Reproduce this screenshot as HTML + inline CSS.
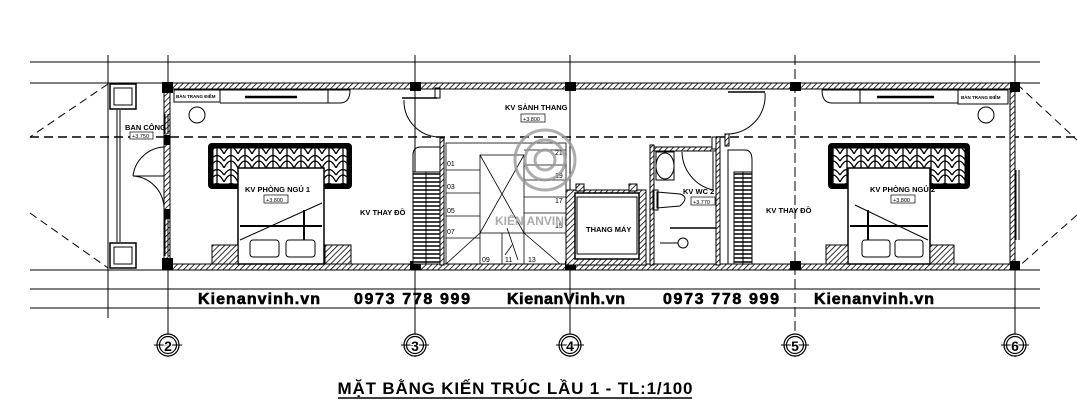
<!DOCTYPE html>
<html><head><meta charset="utf-8"><style>
html,body{margin:0;padding:0;background:#fff}
svg{display:block}
text{font-family:"Liberation Sans",sans-serif}
</style></head><body>
<svg width="1077" height="420" viewBox="0 0 1077 420" xmlns="http://www.w3.org/2000/svg">
<defs>
<pattern id="h" width="4" height="4" patternUnits="userSpaceOnUse" patternTransform="rotate(45)">
<rect width="4" height="4" fill="#fff"/><line x1="0" y1="0" x2="0" y2="4" stroke="#000" stroke-width="1.6"/></pattern>
<pattern id="st" width="4" height="4" patternUnits="userSpaceOnUse"><rect width="4" height="4" fill="#fff"/><line x1="0" y1="2" x2="4" y2="2" stroke="#000" stroke-width="1.5"/></pattern>
<pattern id="orn" width="14" height="14" patternUnits="userSpaceOnUse"><rect width="14" height="14" fill="#fff"/><path d="M0 14 Q7 0 14 14 M0 7 Q7 -4 14 7 M7 0 L7 14" stroke="#000" fill="none" stroke-width="1.3"/></pattern>
</defs>
<g stroke="#000" fill="none" stroke-width="1">
<line x1="30" y1="62" x2="1040" y2="62"/>
<line x1="30" y1="83" x2="1040" y2="83"/>
<line x1="30" y1="270" x2="1040" y2="270"/>
<line x1="30" y1="289" x2="1040" y2="289"/>
<line x1="30" y1="308" x2="1040" y2="308"/>
<line x1="108" y1="55" x2="108" y2="318"/>
<line x1="168" y1="55" x2="168" y2="357"/>
<line x1="415" y1="55" x2="415" y2="357"/>
<line x1="570" y1="55" x2="570" y2="357"/>
<line x1="795" y1="55" x2="795" y2="357" stroke-dasharray="10,4"/>
<line x1="1015" y1="55" x2="1015" y2="357"/>
<line x1="30" y1="137" x2="1077" y2="137" stroke-width="1.5" stroke-dasharray="9,5"/>
<line x1="108" y1="84" x2="30" y2="137" stroke-dasharray="8,5"/>
<line x1="30" y1="213" x2="108" y2="268" stroke-dasharray="8,5"/>
<line x1="1017" y1="84" x2="1077" y2="140" stroke-dasharray="8,5"/>
<line x1="1077" y1="215" x2="1017" y2="268" stroke-dasharray="8,5"/>
</g>
<rect x="168" y="83" width="847" height="6" fill="url(#h)" stroke="#000"/>
<rect x="168" y="264" width="847" height="6" fill="url(#h)" stroke="#000"/>
<rect x="164" y="89" width="6" height="175" fill="url(#h)" stroke="#000"/>
<rect x="1010" y="89" width="5" height="175" fill="url(#h)" stroke="#000"/>
<g fill="#000">
<rect x="162" y="82" width="11" height="11"/><rect x="162" y="258" width="11" height="12"/>
<rect x="410" y="82" width="11" height="9"/><rect x="410" y="261" width="11" height="9"/>
<rect x="565" y="82" width="11" height="9"/><rect x="565" y="261" width="11" height="9"/>
<rect x="790" y="82" width="11" height="9"/><rect x="790" y="261" width="11" height="9"/>
<rect x="1010" y="82" width="10" height="10"/><rect x="1010" y="261" width="10" height="9"/>
<rect x="164" y="135" width="6" height="10"/><rect x="164" y="209" width="6" height="10"/>
</g>
<g stroke="#000" fill="none">
<rect x="110" y="84" width="26" height="25" stroke-width="1.5"/><rect x="114" y="88" width="18" height="17"/>
<rect x="110" y="243" width="26" height="25" stroke-width="1.5"/><rect x="114" y="247" width="18" height="17"/>
<line x1="117" y1="110" x2="117" y2="242"/><line x1="120" y1="110" x2="120" y2="242"/>
<path d="M164 147 A33 33 0 0 0 133 176 M133 176 L164 176"/>
<path d="M164 207 A33 33 0 0 0 133 176"/>
<line x1="165" y1="114" x2="165" y2="134"/><line x1="168" y1="114" x2="168" y2="134"/>
<line x1="165" y1="219" x2="165" y2="256"/><line x1="168" y1="219" x2="168" y2="256"/>
</g>
<text x="125" y="130" font-size="7.5" font-weight="bold">BAN CÔNG</text>
<rect x="130" y="132" width="23" height="7" fill="#fff" stroke="#000" stroke-width=".7"/>
<text x="132" y="138" font-size="5.5">+3.750</text>
<g stroke="#000" fill="none">
<rect x="174" y="90" width="46" height="12"/><path d="M220 90 L328 90 L328 103 L220 103"/>
<line x1="245" y1="97" x2="297" y2="97" stroke-width="2.5"/>
<path d="M328 90 L350 90 Q350 103 340 103 L328 103"/>
<circle cx="197" cy="115" r="8"/>
</g>
<text x="176" y="98" font-size="4.5" font-weight="bold">BÀN TRANG ĐIỂM</text>
<rect x="208" y="143" width="144" height="46" rx="4" fill="#000"/>
<rect x="213" y="148" width="134" height="36" fill="url(#orn)" stroke="#000"/>
<rect x="238" y="168" width="86" height="96" fill="#fff" stroke="#000" stroke-width="1.5"/>
<line x1="240" y1="240" x2="322" y2="203" stroke="#000"/>
<line x1="240" y1="226" x2="322" y2="226" stroke="#000" stroke-width="2"/>
<line x1="304" y1="210" x2="304" y2="250" stroke="#000" stroke-width="2"/>
<rect x="250" y="240" width="29" height="17" rx="3" fill="#fff" stroke="#000"/>
<rect x="286" y="240" width="29" height="17" rx="3" fill="#fff" stroke="#000"/>
<rect x="212" y="245" width="26" height="19" fill="url(#h)" stroke="#000"/>
<rect x="325" y="245" width="26" height="19" fill="url(#h)" stroke="#000"/>
<text x="245" y="192" font-size="7.5" font-weight="bold">KV PHÒNG NGỦ 1</text>
<rect x="264" y="195" width="24" height="8" fill="#fff" stroke="#000" stroke-width=".7"/>
<text x="266" y="202" font-size="5.5">+3.800</text>
<text x="360" y="215" font-size="7.5" font-weight="bold">KV THAY ĐỒ</text>
<path d="M413 264 L413 155 Q413 147 421 147 L440 147" stroke="#000" fill="none"/>
<rect x="413" y="172" width="27" height="92" fill="url(#st)" stroke="#000"/>
<line x1="426" y1="172" x2="426" y2="264" stroke="#000"/>
<rect x="440" y="138" width="4" height="127" fill="url(#h)" stroke="#000"/>
<g stroke="#000" fill="none">
<line x1="402" y1="98" x2="437" y2="98" stroke-width="1.5"/>
<rect x="435" y="88" width="5" height="10"/>
<path d="M404 100 A36 36 0 0 0 438 137"/>
</g>
<g stroke="#000" fill="none" stroke-width=".8">
<rect x="446" y="143" width="120" height="121"/>
<line x1="446" y1="170" x2="480" y2="170"/><line x1="446" y1="193" x2="480" y2="193"/>
<line x1="446" y1="216" x2="480" y2="216"/><line x1="446" y1="238" x2="480" y2="238"/>
<rect x="480" y="155" width="44" height="78"/>
<line x1="480" y1="155" x2="524" y2="233"/><line x1="524" y1="155" x2="480" y2="233"/>
<line x1="480" y1="233" x2="480" y2="264"/><line x1="502" y1="233" x2="502" y2="264"/><line x1="524" y1="233" x2="524" y2="264"/>
<line x1="446" y1="264" x2="480" y2="233"/><line x1="524" y1="233" x2="560" y2="264"/>
<line x1="524" y1="150" x2="566" y2="150"/><line x1="524" y1="165" x2="566" y2="165"/><line x1="524" y1="180" x2="566" y2="180"/><line x1="524" y1="197" x2="566" y2="197"/><line x1="524" y1="213" x2="566" y2="213"/><line x1="524" y1="233" x2="566" y2="233"/>
<path d="M507 228 L518 260 M505 255 L512 245"/>
</g>
<g font-size="7" fill="#000">
<text x="447" y="166">01</text><text x="447" y="189">03</text><text x="447" y="213">05</text><text x="447" y="234">07</text>
<text x="482" y="262">09</text><text x="505" y="262">11</text><text x="528" y="262">13</text>
<text x="555" y="155">21</text><text x="555" y="178">19</text><text x="555" y="203">17</text><text x="555" y="228">15</text>
</g>
<g stroke="#999" fill="none" stroke-width="3" opacity=".8">
<circle cx="545" cy="160" r="30"/><circle cx="545" cy="160" r="20"/><circle cx="545" cy="160" r="10"/>
</g>
<text x="495" y="225" font-size="12" fill="#aaa" font-weight="bold">KIẾN ANVINH</text>
<text x="505" y="110" font-size="7.5" font-weight="bold">KV SẢNH THANG</text>
<rect x="521" y="114" width="24" height="8" fill="#fff" stroke="#000" stroke-width=".7"/>
<text x="523" y="121" font-size="5.5">+3.800</text>
<rect x="566" y="190" width="80" height="75" fill="url(#h)" stroke="#000"/>
<rect x="575" y="193" width="64" height="66" fill="#fff" stroke="#000" stroke-width="1.5"/>
<rect x="577" y="197" width="60" height="57" fill="#fff" stroke="#000"/>
<rect x="576" y="184" width="8" height="7" fill="url(#h)" stroke="#000"/>
<rect x="629" y="184" width="8" height="7" fill="url(#h)" stroke="#000"/>
<text x="586" y="232" font-size="7.5" font-weight="bold">THANG MÁY</text>
<g stroke="#000" fill="none">
<rect x="650" y="145" width="4" height="120" fill="url(#h)"/>
<rect x="654" y="147" width="62" height="4" fill="url(#h)"/>
<rect x="716" y="137" width="4" height="128" fill="url(#h)"/>
<line x1="654" y1="151" x2="716" y2="151"/>
<ellipse cx="665" cy="166" rx="9" ry="13"/><rect x="656" y="152" width="18" height="28"/>
<path d="M657 192 L680 194 Q690 197 680 206 L657 208 Z"/><rect x="653" y="190" width="5" height="20"/>
<line x1="670" y1="228" x2="716" y2="228" stroke-width="1.5"/>
<circle cx="683" cy="243" r="5"/><line x1="660" y1="243" x2="678" y2="243"/>
<path d="M682 152 A40 40 0 0 0 713 190"/><line x1="713" y1="152" x2="713" y2="190"/>
<rect x="712" y="137" width="4" height="12" fill="#fff"/>
</g>
<text x="683" y="194" font-size="7.5" font-weight="bold">KV WC 2</text>
<rect x="691" y="197" width="24" height="8" fill="#fff" stroke="#000" stroke-width=".7"/>
<text x="693" y="204" font-size="5.5">+3.770</text>
<g stroke="#000" fill="none">
<line x1="728" y1="92" x2="765" y2="92" stroke-width="1.5"/>
<path d="M765 93 A38 38 0 0 1 728 134"/>
<rect x="725" y="134" width="4" height="12" fill="url(#h)"/>
</g>
<path d="M728 264 L728 150 L745 150 Q752 150 752 160 L752 264" stroke="#000" fill="none"/>
<rect x="734" y="172" width="18" height="92" fill="url(#st)" stroke="#000"/>
<line x1="743" y1="172" x2="743" y2="264" stroke="#000"/>
<text x="766" y="213" font-size="7.5" font-weight="bold">KV THAY ĐỒ</text>
<g stroke="#000" fill="none">
<path d="M822 90 L860 90 L860 103 L832 103 Q822 103 822 90"/>
<rect x="860" y="90" width="98" height="13"/>
<line x1="877" y1="97" x2="934" y2="97" stroke-width="2.5"/>
<rect x="958" y="90" width="50" height="14"/>
<circle cx="986" cy="115" r="8"/>
<line x1="1016" y1="170" x2="1016" y2="240"/><line x1="1019" y1="170" x2="1019" y2="240"/>
</g>
<text x="961" y="99" font-size="4.5" font-weight="bold">BÀN TRANG ĐIỂM</text>
<rect x="828" y="143" width="142" height="46" rx="4" fill="#000"/>
<rect x="833" y="148" width="132" height="36" fill="url(#orn)" stroke="#000"/>
<rect x="848" y="168" width="82" height="96" fill="#fff" stroke="#000" stroke-width="1.5"/>
<line x1="855" y1="205" x2="928" y2="240" stroke="#000"/>
<line x1="850" y1="226" x2="928" y2="226" stroke="#000" stroke-width="2"/>
<line x1="868" y1="210" x2="868" y2="250" stroke="#000" stroke-width="2"/>
<rect x="862" y="240" width="28" height="17" rx="3" fill="#fff" stroke="#000"/>
<rect x="895" y="240" width="28" height="17" rx="3" fill="#fff" stroke="#000"/>
<rect x="826" y="245" width="22" height="19" fill="url(#h)" stroke="#000"/>
<rect x="930" y="245" width="24" height="19" fill="url(#h)" stroke="#000"/>
<text x="870" y="192" font-size="7.5" font-weight="bold">KV PHÒNG NGỦ 2</text>
<rect x="891" y="195" width="24" height="8" fill="#fff" stroke="#000" stroke-width=".7"/>
<text x="893" y="202" font-size="5.5">+3.800</text>
<g font-size="16" font-weight="bold" fill="#000" stroke="#000" stroke-width=".6">
<text x="198" y="304" textLength="122">Kienanvinh.vn</text>
<text x="354" y="304" textLength="116">0973 778 999</text>
<text x="507" y="304" textLength="118">KienanVinh.vn</text>
<text x="663" y="304" textLength="116">0973 778 999</text>
<text x="814" y="304" textLength="120">Kienanvinh.vn</text>
</g>
<g stroke="#000" fill="#fff" stroke-width="1.2">
<circle cx="168" cy="345" r="11"/><circle cx="168" cy="345" r="8.5"/>
<circle cx="415" cy="345" r="11"/><circle cx="415" cy="345" r="8.5"/>
<circle cx="570" cy="345" r="11"/><circle cx="570" cy="345" r="8.5"/>
<circle cx="795" cy="345" r="11"/><circle cx="795" cy="345" r="8.5"/>
<circle cx="1015" cy="345" r="11"/><circle cx="1015" cy="345" r="8.5"/>
</g>
<g stroke="#000" stroke-width="1">
<line x1="154" y1="345" x2="182" y2="345"/><line x1="401" y1="345" x2="429" y2="345"/><line x1="556" y1="345" x2="584" y2="345"/><line x1="781" y1="345" x2="809" y2="345"/><line x1="1001" y1="345" x2="1029" y2="345"/>
</g>
<g font-size="14" font-weight="bold" text-anchor="middle" fill="#000" stroke="#fff" stroke-width="2" paint-order="stroke">
<text x="168" y="351">2</text><text x="415" y="351">3</text><text x="570" y="351">4</text><text x="795" y="351">5</text><text x="1015" y="351">6</text>
</g>
<text x="515" y="394" font-size="17" font-weight="bold" text-anchor="middle" textLength="355">MẶT BẰNG KIẾN TRÚC LẦU 1 - TL:1/100</text>
<line x1="338" y1="398" x2="692" y2="398" stroke="#000" stroke-width="1.5"/>
</svg>
</body></html>
